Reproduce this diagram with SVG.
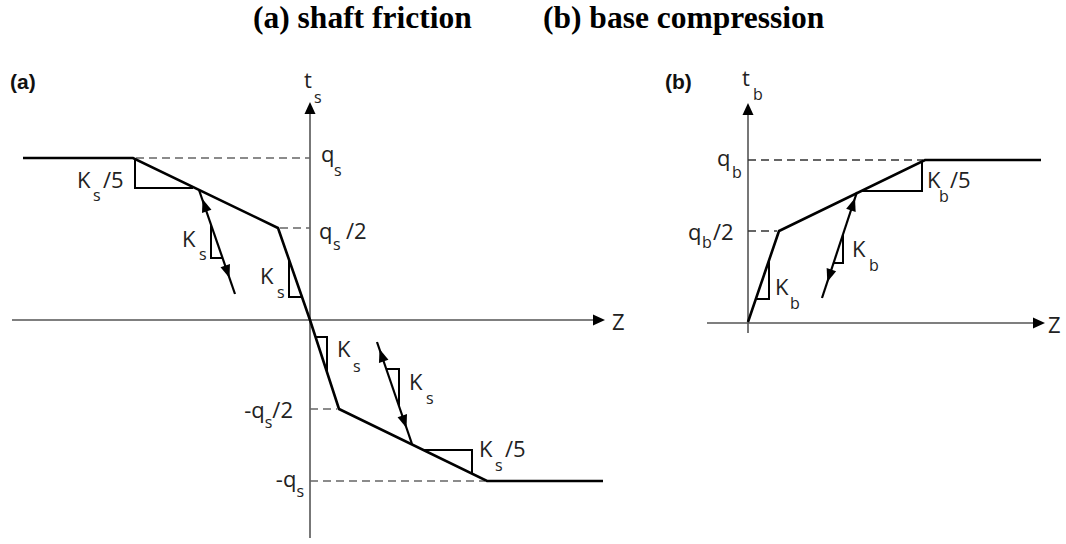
<svg xmlns="http://www.w3.org/2000/svg" xmlns:xlink="http://www.w3.org/1999/xlink" width="1066" height="544" viewBox="0 0 1066 544">
<style>
.title{font-family:"Liberation Serif","Times New Roman",serif;font-weight:bold;font-size:31.5px;fill:#000}
.tag{font-family:"Liberation Sans",Arial,sans-serif;font-weight:bold;font-size:21px;fill:#111}
.lbl{font-family:"Open Sans","DejaVu Sans",sans-serif;font-size:22px;fill:#222}
.sub{font-size:16px}
.axis{stroke:#555;stroke-width:1.6;fill:none}
.dash{stroke:#666;stroke-width:1.6;stroke-dasharray:8 5;fill:none}
.dashb{stroke:#333;stroke-width:1.5;stroke-dasharray:8 5;fill:none}
.curve{stroke:#000;stroke-width:2.6;fill:none;stroke-linejoin:miter}
.tri{stroke:#000;stroke-width:2;fill:none}
.unl{stroke:#000;stroke-width:2.2;fill:none}
.head{fill:#000}
</style>
<defs>
<path id="ah" d="M0,0 L-12,-5.5 L-12,5.5 Z"/>
<path id="mh" d="M0,0 L-13,-5 L-13,5 Z"/>
</defs>
<rect width="1066" height="544" fill="#fff"/>
<g id="title">
<text class="title" x="253" y="28">(a) shaft friction</text>
<text class="title" x="543" y="28">(b) base compression</text>
</g>
<g id="panel-a">
<text class="tag" x="10" y="89">(a)</text>
<g id="axes-a">
<line class="axis" x1="310" y1="112" x2="310" y2="538"/>
<line class="axis" x1="12" y1="320" x2="595" y2="320"/>
<use xlink:href="#ah" class="head" transform="translate(310,102) rotate(-90)"/>
<use xlink:href="#ah" class="head" transform="translate(605,320)"/>
<text class="lbl" x="304" y="88">t</text><text class="lbl sub" x="314" y="103">s</text>
<text class="lbl" x="612" y="330">Z</text>
</g>
<g id="levels-a">
<line class="dash" x1="136" y1="158" x2="310" y2="158"/>
<line class="dash" x1="280" y1="228" x2="310" y2="228"/>
<line class="dash" x1="310" y1="409" x2="337" y2="409"/>
<line class="dash" x1="310" y1="481" x2="485" y2="481"/>
<text class="lbl" x="321" y="162">q</text><text class="lbl sub" x="334" y="176">s</text>
<text class="lbl" x="319" y="239">q</text><text class="lbl sub" x="333" y="250">s</text><text class="lbl" x="346" y="239">/2</text>
<text class="lbl" text-anchor="end" x="293" y="418">-q<tspan class="sub" dy="10">s</tspan><tspan dy="-10">/2</tspan></text>
<text class="lbl" text-anchor="end" x="304" y="487">-q<tspan class="sub" dy="10">s</tspan></text>
</g>
<g id="curve-a">
<polyline class="curve" points="23,158 133,158 278,228 310,320 339,409 487,481 603,481"/>
</g>
<g id="unloading-a">
<line class="unl" x1="199" y1="190" x2="235" y2="294"/>
<use xlink:href="#mh" class="head" transform="translate(202.5,199) rotate(-109.1)"/>
<use xlink:href="#mh" class="head" transform="translate(229.5,278) rotate(70.9)"/>
<line class="unl" x1="377" y1="342" x2="412" y2="444"/>
<use xlink:href="#mh" class="head" transform="translate(379.5,349) rotate(-108.9)"/>
<use xlink:href="#mh" class="head" transform="translate(406.5,428) rotate(71.1)"/>
</g>
<g id="slopes-a">
<polyline class="tri" points="135,159 135,188 193,188"/>
<text class="lbl" x="77" y="188">K</text><text class="lbl sub" x="93" y="201">s</text><text class="lbl" x="103" y="188">/5</text>
<polyline class="tri" points="211,224.5 211,258 222.5,258"/>
<text class="lbl" x="182" y="247">K</text><text class="lbl sub" x="199" y="260">s</text>
<polyline class="tri" points="289,259.6 289,297 302,297"/>
<text class="lbl" x="260" y="284">K</text><text class="lbl sub" x="277" y="298">s</text>
<polyline class="tri" points="315.5,337 327,337 327,372"/>
<text class="lbl" x="337" y="357">K</text><text class="lbl sub" x="353" y="372">s</text>
<polyline class="tri" points="386.3,369 399,369 399,406"/>
<text class="lbl" x="409" y="390">K</text><text class="lbl sub" x="426" y="404">s</text>
<polyline class="tri" points="423.3,450 472,450 472,473.7"/>
<text class="lbl" x="479" y="457">K</text><text class="lbl sub" x="495" y="471">s</text><text class="lbl" x="505" y="457">/5</text>
</g>
</g>
<g id="panel-b">
<text class="tag" x="665" y="89">(b)</text>
<g id="axes-b">
<line class="axis" x1="748" y1="113" x2="748" y2="333"/>
<line class="axis" x1="707" y1="323" x2="1035" y2="323"/>
<use xlink:href="#ah" class="head" transform="translate(748,103) rotate(-90)"/>
<use xlink:href="#ah" class="head" transform="translate(1045,323)"/>
<text class="lbl" x="742" y="86">t</text><text class="lbl sub" x="753" y="100">b</text>
<text class="lbl" x="1048" y="333">Z</text>
</g>
<g id="levels-b">
<line class="dashb" x1="748" y1="160" x2="923" y2="160"/>
<line class="dashb" x1="748" y1="231" x2="777" y2="231"/>
<text class="lbl" x="717" y="166">q</text><text class="lbl sub" x="732" y="178">b</text>
<text class="lbl" x="688" y="240">q</text><text class="lbl sub" x="702" y="248">b</text><text class="lbl" x="713" y="240">/2</text>
</g>
<g id="curve-b">
<polyline class="curve" points="748,322 779,231 925,160 1041,160"/>
</g>
<g id="unloading-b">
<line class="unl" x1="822" y1="298" x2="857" y2="192"/>
<use xlink:href="#mh" class="head" transform="translate(855,198) rotate(-71.7)"/>
<use xlink:href="#mh" class="head" transform="translate(827.3,282) rotate(108.3)"/>
</g>
<g id="slopes-b">
<polyline class="tri" points="769,260.4 769,299 755.8,299"/>
<text class="lbl" x="775" y="295">K</text><text class="lbl sub" x="790" y="309">b</text>
<polyline class="tri" points="843,234.4 843,263 833.6,263"/>
<text class="lbl" x="852" y="257">K</text><text class="lbl sub" x="869" y="271">b</text>
<polyline class="tri" points="861.3,191 922,191 922,161.5"/>
<text class="lbl" x="927" y="188">K</text><text class="lbl sub" x="939" y="202">b</text><text class="lbl" x="950" y="188">/5</text>
</g>
</g>
</svg>
